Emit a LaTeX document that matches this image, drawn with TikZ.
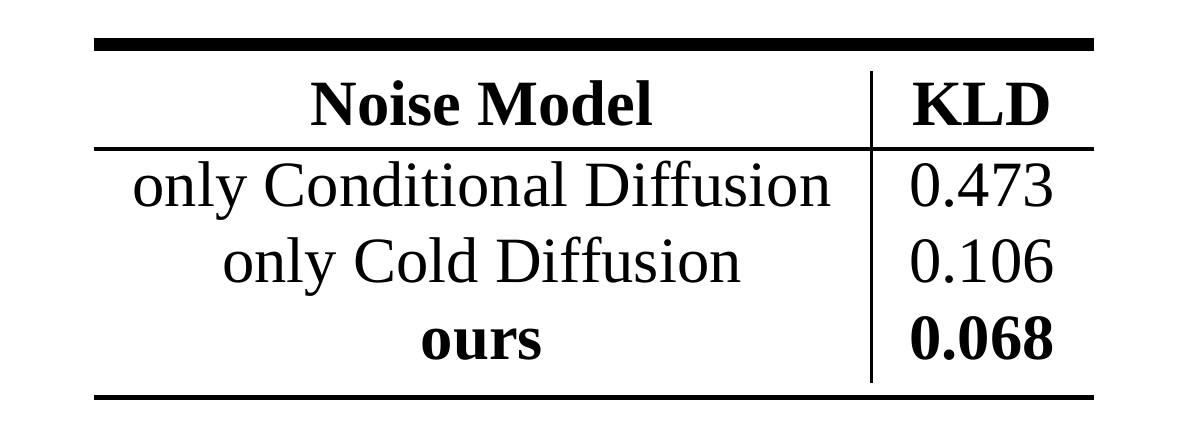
\documentclass[tikz,border=0pt]{standalone}
\usepackage{fontspec}
\setmainfont{Liberation Serif}
\tikzset{
  heavyrule/.style = {
    line width=13pt
  },
  lightrule/.style = {
    line width=3.5pt
  },
  bottomrule/.style = {
    line width=5pt
  },
  colrule/.style = {
    line width=2.5pt
  },
  cell class/.style={
    anchor=base,
    inner sep=0pt,
    every text node part/.style={
      align=center,
      font={\fontsize{64.6}{78}\selectfont}
    }
  },
}

\begin{document}
\begin{tikzpicture}[x=1pt,y=-1pt]
  \useasboundingbox (0,0) rectangle (1191,434);

  % table corners
  \coordinate (topleft) at (94,44.5);
  \coordinate (topright) at (1094,44.5);
  \coordinate (midleft) at (94,149);
  \coordinate (midright) at (1094,149);
  \coordinate (botleft) at (94,397.5);
  \coordinate (botright) at (1094,397.5);
  \coordinate (sepstart) at (871.3,71);
  \coordinate (sepend) at (871.3,383);

  \draw[heavyrule] (topleft) -- (topright);
  \draw[lightrule] (midleft) -- (midright);
  \draw[bottomrule] (botleft) -- (botright);
  \draw[colrule] (sepstart) -- (sepend);

  % header
  \node[cell class] (headmodel) at (482,125) {\bfseries Noise Model};
  \node[cell class] (headkld) at (982,125) {\bfseries KLD};

  \foreach \idx/\baseline/\model/\kld/\weight in {
    1/206/only Conditional Diffusion/0.473/\mdseries,
    2/282/only Cold Diffusion/0.106/\mdseries,
    3/359/ours/0.068/\bfseries
  } {
    \node[cell class] (model\idx) at (482,\baseline) {\weight \model};
    \node[cell class] (kld\idx) at (982,\baseline) {\weight \kld};
  }

\end{tikzpicture}
\end{document}
